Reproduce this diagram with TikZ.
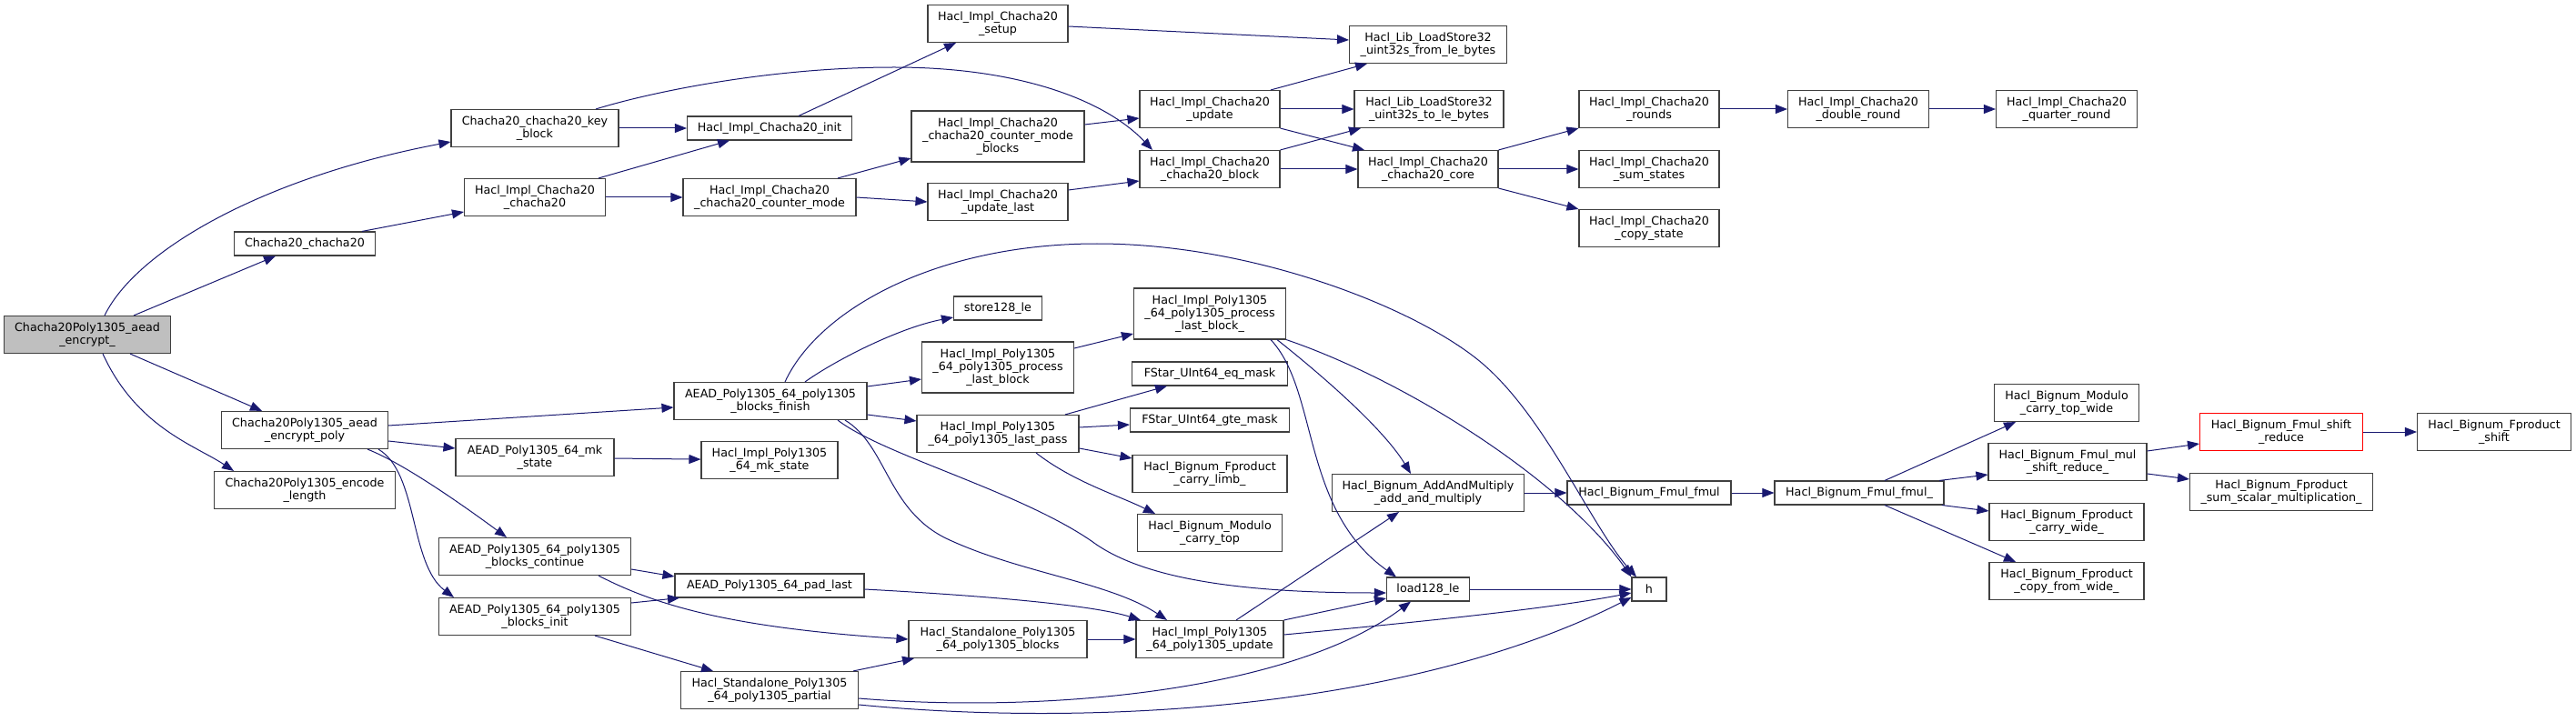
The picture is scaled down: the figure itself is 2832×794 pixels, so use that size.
\documentclass[tikz,border=0pt]{standalone}
\usepackage{fontspec}
\setmainfont{DejaVu Sans}
\usepackage{xcolor}
\usepackage{tikz}
\usetikzlibrary{arrows.meta}
\definecolor{edgeblue}{RGB}{25, 25, 112}
\definecolor{boxline}{RGB}{64, 64, 64}
\definecolor{rootgray}{RGB}{191, 191, 191}
\definecolor{cutred}{RGB}{255, 0, 0}

\begin{document}
\begin{tikzpicture}[
    x=1pt, y=-1pt,
    fn/.style={rectangle, draw=boxline, fill=white, line width=1.1pt, inner sep=0pt, minimum height=#1, align=center, font=\fontsize{12.7}{14}\selectfont},
    fn/.default=41pt,
    call/.style={draw=edgeblue, line width=1pt, -{Triangle[length=13pt, width=10pt]}}
  ]
  \useasboundingbox (0,0) rectangle (2832,794);

  % Caller
  \node[fn, fill=rootgray, minimum width=183pt] (enc) at (96,368) {Chacha20Poly1305\_aead\\\_encrypt\_};

  % Rank 1
  \node[fn=26pt, minimum width=155pt] (cc20) at (335,268) {Chacha20\_chacha20};
  \node[fn, minimum width=183pt] (encpoly) at (335,473) {Chacha20Poly1305\_aead\\\_encrypt\_poly};
  \node[fn, minimum width=199pt] (enclen) at (335,539) {Chacha20Poly1305\_encode\\\_length};

  % Rank 2
  \node[fn, minimum width=184pt] (keyblk) at (588,141) {Chacha20\_chacha20\_key\\\_block};
  \node[fn, minimum width=155pt] (implcc20) at (588,217) {Hacl\_Impl\_Chacha20\\\_chacha20};
  \node[fn, minimum width=174pt] (mkstate) at (588,503) {AEAD\_Poly1305\_64\_mk\\\_state};
  \node[fn, minimum width=211pt] (blkcont) at (588,612) {AEAD\_Poly1305\_64\_poly1305\\\_blocks\_continue};
  \node[fn, minimum width=211pt] (blkinit) at (588,678) {AEAD\_Poly1305\_64\_poly1305\\\_blocks\_init};

  % Rank 3
  \node[fn=26pt, minimum width=181pt] (init) at (846,141) {Hacl\_Impl\_Chacha20\_init};
  \node[fn, minimum width=190pt] (ctrmode) at (846,217) {Hacl\_Impl\_Chacha20\\\_chacha20\_counter\_mode};
  \node[fn, minimum width=212pt] (blkfin) at (847,441) {AEAD\_Poly1305\_64\_poly1305\\\_blocks\_finish};
  \node[fn, minimum width=150pt] (implmk) at (846,506) {Hacl\_Impl\_Poly1305\\\_64\_mk\_state};
  \node[fn=26pt, minimum width=208pt] (padlast) at (846,644) {AEAD\_Poly1305\_64\_pad\_last};
  \node[fn, minimum width=195pt] (partial) at (846,759) {Hacl\_Standalone\_Poly1305\\\_64\_poly1305\_partial};

  % Rank 4
  \node[fn, minimum width=154pt] (setup) at (1097,26) {Hacl\_Impl\_Chacha20\\\_setup};
  \node[fn=56pt, minimum width=190pt] (ctrblocks) at (1097,150) {Hacl\_Impl\_Chacha20\\\_chacha20\_counter\_mode\\\_blocks};
  \node[fn, minimum width=154pt] (updlast) at (1097,222) {Hacl\_Impl\_Chacha20\\\_update\_last};
  \node[fn=26pt, minimum width=97pt] (store) at (1097,339) {store128\_le};
  \node[fn=56pt, minimum width=167pt] (plb) at (1097,404) {Hacl\_Impl\_Poly1305\\\_64\_poly1305\_process\\\_last\_block};
  \node[fn, minimum width=178pt] (lastpass) at (1097,477) {Hacl\_Impl\_Poly1305\\\_64\_poly1305\_last\_pass};
  \node[fn, minimum width=196pt] (sblocks) at (1097,703) {Hacl\_Standalone\_Poly1305\\\_64\_poly1305\_blocks};

  % Rank 5
  \node[fn, minimum width=154pt] (update) at (1330,120) {Hacl\_Impl\_Chacha20\\\_update};
  \node[fn, minimum width=154pt] (ccblock) at (1330,186) {Hacl\_Impl\_Chacha20\\\_chacha20\_block};
  \node[fn=56pt, minimum width=167pt] (plbu) at (1330,345) {Hacl\_Impl\_Poly1305\\\_64\_poly1305\_process\\\_last\_block\_};
  \node[fn=26pt, minimum width=171pt] (eqmask) at (1330,411) {FStar\_UInt64\_eq\_mask};
  \node[fn=26pt, minimum width=175pt] (gtemask) at (1330,462) {FStar\_UInt64\_gte\_mask};
  \node[fn, minimum width=170pt] (carrylimb) at (1330,521) {Hacl\_Bignum\_Fproduct\\\_carry\_limb\_};
  \node[fn, minimum width=159pt] (carrytop) at (1330,586) {Hacl\_Bignum\_Modulo\\\_carry\_top};
  \node[fn, minimum width=162pt] (pupdate) at (1330,703) {Hacl\_Impl\_Poly1305\\\_64\_poly1305\_update};

  % Rank 6
  \node[fn, minimum width=173pt] (lsfrom) at (1570,49) {Hacl\_Lib\_LoadStore32\\\_uint32s\_from\_le\_bytes};
  \node[fn, minimum width=164pt] (lsto) at (1571,120) {Hacl\_Lib\_LoadStore32\\\_uint32s\_to\_le\_bytes};
  \node[fn, minimum width=154pt] (core) at (1570,186) {Hacl\_Impl\_Chacha20\\\_chacha20\_core};
  \node[fn, minimum width=211pt] (addmul) at (1570,542) {Hacl\_Bignum\_AddAndMultiply\\\_add\_and\_multiply};
  \node[fn=26pt, minimum width=91pt] (load) at (1570,648) {load128\_le};

  % Rank 7
  \node[fn, minimum width=154pt] (rounds) at (1813,120) {Hacl\_Impl\_Chacha20\\\_rounds};
  \node[fn, minimum width=154pt] (sumst) at (1813,186) {Hacl\_Impl\_Chacha20\\\_sum\_states};
  \node[fn, minimum width=154pt] (copyst) at (1813,251) {Hacl\_Impl\_Chacha20\\\_copy\_state};
  \node[fn=26pt, minimum width=180pt] (fmul) at (1813,542) {Hacl\_Bignum\_Fmul\_fmul};
  \node[fn=26pt, minimum width=38pt] (h) at (1813,648) {h};

  % Rank 8
  \node[fn, minimum width=155pt] (dround) at (2043,120) {Hacl\_Impl\_Chacha20\\\_double\_round};
  \node[fn=26pt, minimum width=186pt] (fmulu) at (2044,542) {Hacl\_Bignum\_Fmul\_fmul\_};

  % Rank 9
  \node[fn, minimum width=155pt] (qround) at (2272,120) {Hacl\_Impl\_Chacha20\\\_quarter\_round};
  \node[fn, minimum width=159pt] (ctwide) at (2272,443) {Hacl\_Bignum\_Modulo\\\_carry\_top\_wide};
  \node[fn, minimum width=174pt] (msr) at (2273,508) {Hacl\_Bignum\_Fmul\_mul\\\_shift\_reduce\_};
  \node[fn, minimum width=170pt] (cwide) at (2272,574) {Hacl\_Bignum\_Fproduct\\\_carry\_wide\_};
  \node[fn, minimum width=170pt] (cfw) at (2272,639) {Hacl\_Bignum\_Fproduct\\\_copy\_from\_wide\_};

  % Rank 10 and 11
  \node[fn, draw=cutred, minimum width=179pt] (fsr) at (2508,475) {Hacl\_Bignum\_Fmul\_shift\\\_reduce};
  \node[fn, minimum width=201pt] (ssm) at (2508,541) {Hacl\_Bignum\_Fproduct\\\_sum\_scalar\_multiplication\_};
  \node[fn, minimum width=169pt] (fshift) at (2742,475) {Hacl\_Bignum\_Fproduct\\\_shift};

  % Chacha20 calls
  \draw[call] ([xshift=19pt]enc.north) .. controls (150,275) and (290,195) .. ([yshift=-15pt]keyblk.west);
  \draw[call] ([xshift=51pt]enc.north) -- ([xshift=-32pt]cc20.south);
  \draw[call] ([xshift=47pt]enc.south) -- ([xshift=-47pt]encpoly.north);
  \draw[call] ([xshift=17pt]enc.south) .. controls (150,470) and (215,490) .. ([xshift=-78pt]enclen.north);
  \draw[call] (keyblk) -- (init);
  \draw[call] ([xshift=67pt]keyblk.north) .. controls (720,100) and (850,74) .. (983,74) .. controls (1120,74) and (1215,110) .. ([xshift=-63pt]ccblock.north);
  \draw[call] ([xshift=63pt]cc20.north) -- ([yshift=-16pt]implcc20.west);
  \draw[call] ([xshift=70pt]implcc20.north) -- ([xshift=-44pt]init.south);
  \draw[call] (implcc20) -- (ctrmode);
  \draw[call] ([xshift=32pt]init.north) -- ([xshift=-46pt]setup.south);
  \draw[call] ([xshift=75pt]ctrmode.north) -- ([yshift=-24pt]ctrblocks.west);
  \draw[call] (ctrmode.east) -- (updlast.west);
  \draw[call] ([yshift=13pt]ctrblocks.east) -- ([yshift=-10pt]update.west);
  \draw[call] ([yshift=13pt]updlast.east) -- ([yshift=-13pt]ccblock.west);
  \draw[call] ([yshift=-3pt]setup.east) -- ([yshift=5pt]lsfrom.west);
  \draw[call] ([xshift=67pt]update.north) -- ([xshift=-67pt]lsfrom.south);
  \draw[call] (update) -- (lsto);
  \draw[call] (update.south east) -- ([xshift=-70pt]core.north);
  \draw[call] (ccblock.north east) -- ([xshift=-75pt]lsto.south);
  \draw[call] (ccblock) -- (core);
  \draw[call] (core.north east) -- (rounds.south west);
  \draw[call] (core) -- (sumst);
  \draw[call] (core.south east) -- (copyst.north west);
  \draw[call] (rounds) -- (dround);
  \draw[call] (dround) -- (qround);

  % Poly1305 calls
  \draw[call] ([yshift=5pt]encpoly.east) -- ([yshift=-7pt]blkfin.west);
  \draw[call] ([yshift=-12pt]encpoly.east) -- ([yshift=10pt]mkstate.west);
  \draw[call] ([xshift=69pt]encpoly.south) .. controls (445,510) and (515,560) .. ([xshift=-31pt]blkcont.north);
  \draw[call] ([xshift=81pt]encpoly.south) .. controls (460,520) and (450,620) .. ([xshift=-89pt]blkinit.north);
  \draw[call] (mkstate) -- (implmk);
  \draw[call] ([yshift=-14pt]blkcont.east) -- ([yshift=10pt]padlast.west);
  \draw[call] ([xshift=70pt]blkcont.south) .. controls (720,665) and (800,690) .. (sblocks.west);
  \draw[call] ([yshift=15pt]blkinit.east) -- ([xshift=-99pt]padlast.south);
  \draw[call] ([xshift=66pt]blkinit.south) -- ([xshift=-62pt]partial.north);
  \draw[call] ([xshift=16pt]blkfin.north) .. controls (900,340) and (1030,268) .. (1206,268) .. controls (1380,268) and (1560,340) .. (1630,400) .. controls (1700,460) and (1750,580) .. ([xshift=-14pt]h.north);
  \draw[call] ([xshift=38pt]blkfin.north) .. controls (920,395) and (990,360) .. ([yshift=-10pt]store.west);
  \draw[call] ([yshift=16pt]blkfin.east) -- ([yshift=-13pt]plb.west);
  \draw[call] ([yshift=-15pt]blkfin.east) -- ([yshift=14pt]lastpass.west);
  \draw[call] ([xshift=74pt]blkfin.south) .. controls (970,500) and (1120,540) .. (1200,595) .. controls (1260,640) and (1380,652) .. ([yshift=-4pt]load.west);
  \draw[call] ([xshift=82pt]blkfin.south) .. controls (975,490) and (975,560) .. (1040,592) .. controls (1120,630) and (1220,640) .. ([xshift=-47pt]pupdate.north);
  \draw[call] ([yshift=21pt]plb.east) -- ([yshift=-22pt]plbu.west);
  \draw[call] ([xshift=74pt]lastpass.north) -- ([xshift=-47pt]eqmask.south);
  \draw[call] ([yshift=7pt]lastpass.east) -- ([yshift=-5pt]gtemask.west);
  \draw[call] ([yshift=-16pt]lastpass.east) -- ([yshift=17pt]carrylimb.west);
  \draw[call] ([xshift=42pt]lastpass.south) .. controls (1180,530) and (1230,545) .. ([xshift=-60pt]carrytop.north);
  \draw[call] ([xshift=74pt]plbu.south) .. controls (1450,410) and (1520,470) .. ([xshift=-19pt]addmul.north);
  \draw[call] ([xshift=67pt]plbu.south) .. controls (1450,430) and (1430,560) .. ([xshift=-35pt]load.north);
  \draw[call] (plbu.south east) .. controls (1550,420) and (1720,530) .. (h.north west);
  \draw[call] ([yshift=-4pt]padlast.east) .. controls (1080,655) and (1200,665) .. ([xshift=-76pt]pupdate.north);
  \draw[call] ([xshift=92pt]partial.north) -- ([xshift=-92pt]sblocks.south);
  \draw[call] (sblocks) -- (pupdate);
  \draw[call] ([xshift=29pt]pupdate.north) -- ([xshift=-32pt]addmul.south);
  \draw[call] (pupdate.north east) -- ([yshift=-10pt]load.west);
  \draw[call] ([yshift=5pt]pupdate.east) .. controls (1550,685) and (1700,670) .. ([yshift=-4pt]h.west);
  \draw[call] (load) -- (h);
  \draw[call] ([yshift=-9pt]partial.east) .. controls (1150,785) and (1420,760) .. ([xshift=-19pt]load.south);
  \draw[call] ([yshift=-16pt]partial.east) .. controls (1200,800) and (1550,780) .. ([yshift=-9pt]h.west);

  % Bignum calls
  \draw[call] (addmul) -- (fmul);
  \draw[call] (fmul) -- (fmulu);
  \draw[call] ([xshift=28pt]fmulu.north) -- ([xshift=-56pt]ctwide.south);
  \draw[call] ([xshift=88pt]fmulu.north) -- ([yshift=-14pt]msr.west);
  \draw[call] ([xshift=91pt]fmulu.south) -- ([yshift=12pt]cwide.west);
  \draw[call] ([xshift=28pt]fmulu.south) -- ([xshift=-56pt]cfw.north);
  \draw[call] ([yshift=12pt]msr.east) -- ([yshift=-13pt]fsr.west);
  \draw[call] ([yshift=-13pt]msr.east) -- ([yshift=14pt]ssm.west);
  \draw[call] (fsr) -- (fshift);

\end{tikzpicture}
\end{document}
